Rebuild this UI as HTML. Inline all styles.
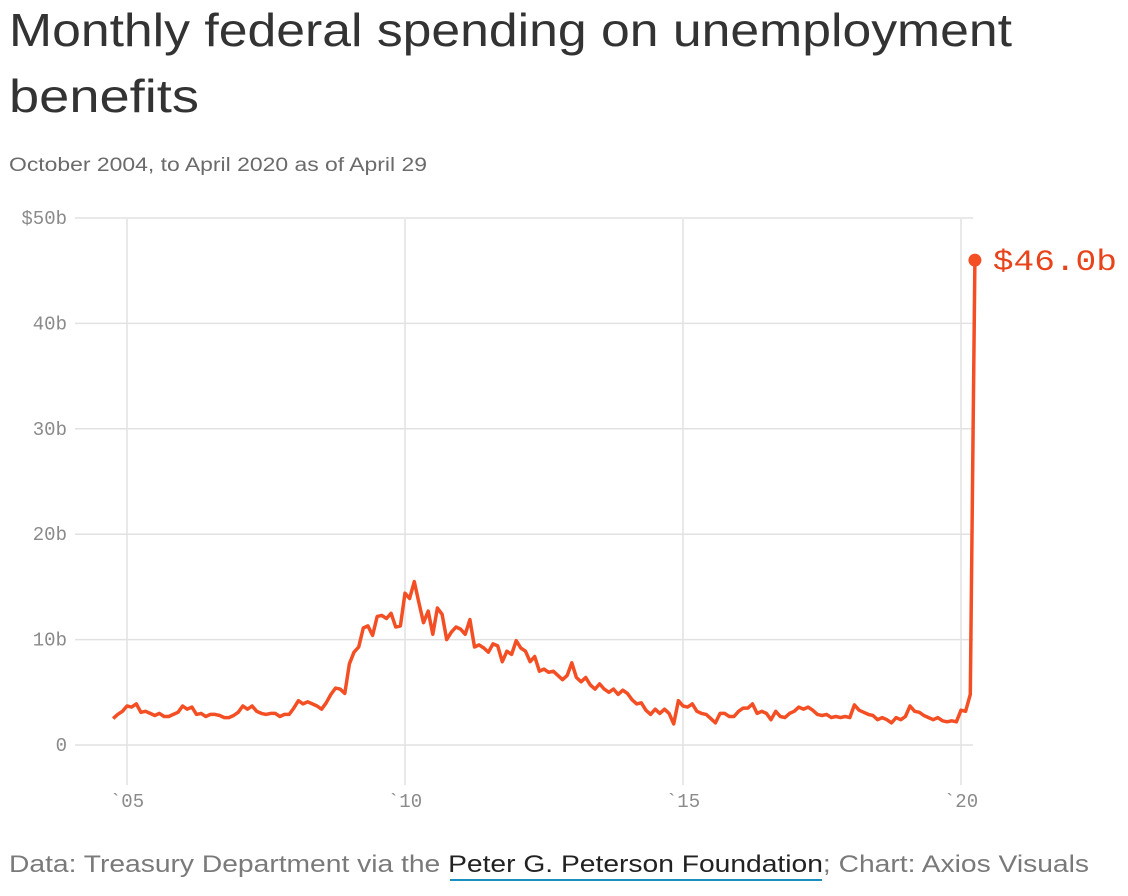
<!DOCTYPE html>
<html><head><meta charset="utf-8"><style>
body{margin:0;background:#fff;width:1128px;height:896px;overflow:hidden;font-family:"Liberation Sans",sans-serif}
svg{position:absolute;left:0;top:0}
</style></head><body>
<svg width="1128" height="896">
<text x="9" y="46" font-size="46" fill="#333" textLength="1003" lengthAdjust="spacingAndGlyphs">Monthly federal spending on unemployment</text>
<text x="9" y="112" font-size="46" fill="#333" textLength="190" lengthAdjust="spacingAndGlyphs">benefits</text>
<text x="9" y="171" font-size="19" fill="#6b6b6b" textLength="418" lengthAdjust="spacingAndGlyphs">October 2004, to April 2020 as of April 29</text>
<g id="grid"></g><g id="axes"></g>
<path id="line" fill="none" stroke="#f44f24" stroke-width="3.5" stroke-linejoin="round"/>
<circle id="endpt" r="6.5" fill="#f44f24"/>
<text id="endlbl" font-family="Liberation Mono, monospace" font-size="30" fill="#e8431a" textLength="124" lengthAdjust="spacingAndGlyphs"></text>
<text x="9" y="872" font-size="24" fill="#7a7a7a" textLength="1080" lengthAdjust="spacingAndGlyphs">Data: Treasury Department via the <tspan fill="#222">Peter G. Peterson Foundation</tspan>; Chart: Axios Visuals</text>
<line x1="450" x2="822" y1="880" y2="880" stroke="#1a8fc0" stroke-width="2"/>
</svg>
<script>
const yTicks=[0,10,20,30,40,50];
const yTickLabels=["0","10b","20b","30b","40b","$50b"];
const xTickYears=[2005,2010,2015,2020];
const xTickLabels=["`05","`10","`15","`20"];
const startYear=2004, startMonth=9; // October 2004 (0-based month)
const values=[2.5,2.9,3.2,
3.7,3.6,3.9,3.1,3.2,3.0,2.8,3.0,2.7,2.7,2.9,3.1,
3.7,3.4,3.6,2.9,3.0,2.7,2.9,2.9,2.8,2.6,2.6,2.8,
3.1,3.7,3.4,3.7,3.2,3.0,2.9,3.0,3.0,2.7,2.9,2.9,
3.5,4.2,3.9,4.1,3.9,3.7,3.4,4.0,4.8,5.4,5.3,4.9,
7.7,8.8,9.3,11.1,11.3,10.4,12.2,12.3,12.0,12.5,11.2,11.3,
14.4,13.9,15.5,13.5,11.6,12.7,10.5,13.0,12.4,10.0,10.7,11.2,
11.0,10.5,11.9,9.3,9.5,9.2,8.8,9.6,9.4,7.9,8.9,
8.6,9.9,9.2,8.9,7.9,8.4,7.0,7.2,6.9,7.0,6.6,6.2,
6.6,7.8,6.4,6.0,6.4,5.7,5.3,5.8,5.3,5.0,5.3,4.8,
5.2,4.9,4.3,3.9,4.0,3.3,2.9,3.4,3.0,3.4,3.0,2.0,
4.2,3.7,3.6,3.9,3.2,3.0,2.9,2.5,2.1,3.0,3.0,2.7,
2.7,3.2,3.5,3.5,3.9,3.0,3.2,3.0,2.4,3.2,2.7,2.6,
3.0,3.2,3.6,3.4,3.6,3.3,2.9,2.8,2.9,2.6,2.7,2.6,
2.7,2.6,3.8,3.3,3.1,2.9,2.8,2.4,2.6,2.4,2.1,2.6,
2.4,2.7,3.7,3.2,3.1,2.8,2.6,2.4,2.6,2.3,2.2,2.3,
2.2,3.3,3.2,4.8,46.0];
const y=v=>745-v*10.54;
const x=t=>127+(t-2005)*55.6; // t in fractional years
const NS="http://www.w3.org/2000/svg";
const grid=document.getElementById('grid'),axes=document.getElementById('axes');
yTicks.forEach((v,i)=>{
 const l=document.createElementNS(NS,'line');
 
 
 l.setAttribute('x1',75);l.setAttribute('x2',973);l.setAttribute('y1',y(v));l.setAttribute('y2',y(v));
 l.setAttribute('stroke','#e2e2e2');l.setAttribute('stroke-width','1.5');grid.appendChild(l);
 const t=document.createElementNS(NS,'text');
 
 
 t.setAttribute('x',67);t.setAttribute('y',y(v)+6);t.setAttribute('text-anchor','end');
 t.setAttribute('font-family','Liberation Mono, monospace');t.setAttribute('font-size','19');t.setAttribute('fill','#8a8a8a');
 t.textContent=yTickLabels[i];axes.appendChild(t);
});
xTickYears.forEach((yr,i)=>{
 const l=document.createElementNS(NS,'line');
 
 
 l.setAttribute('x1',x(yr));l.setAttribute('x2',x(yr));l.setAttribute('y1',219);l.setAttribute('y2',785);
 l.setAttribute('stroke','#e2e2e2');l.setAttribute('stroke-width','1.5');grid.appendChild(l);
 const t=document.createElementNS(NS,'text');
 
 
 t.setAttribute('x',x(yr));t.setAttribute('y',807);t.setAttribute('text-anchor','middle');
 t.setAttribute('font-family','Liberation Mono, monospace');t.setAttribute('font-size','19');t.setAttribute('fill','#8a8a8a');
 t.textContent=xTickLabels[i];axes.appendChild(t);
});
let d='';
values.forEach((v,i)=>{const t=startYear+(startMonth+i)/12;d+=(i?'L':'M')+x(t).toFixed(1)+','+y(v).toFixed(1);});
document.getElementById('line').setAttribute('d',d);
const li=values.length-1,lt=startYear+(startMonth+li)/12,lv=values[li];
const c=document.getElementById('endpt');c.setAttribute('cx',x(lt));c.setAttribute('cy',y(lv));
const lb=document.getElementById('endlbl');lb.setAttribute('x',x(lt)+18);lb.setAttribute('y',y(lv)+10);lb.textContent='$'+lv.toFixed(1)+'b';
</script>
</body></html>
